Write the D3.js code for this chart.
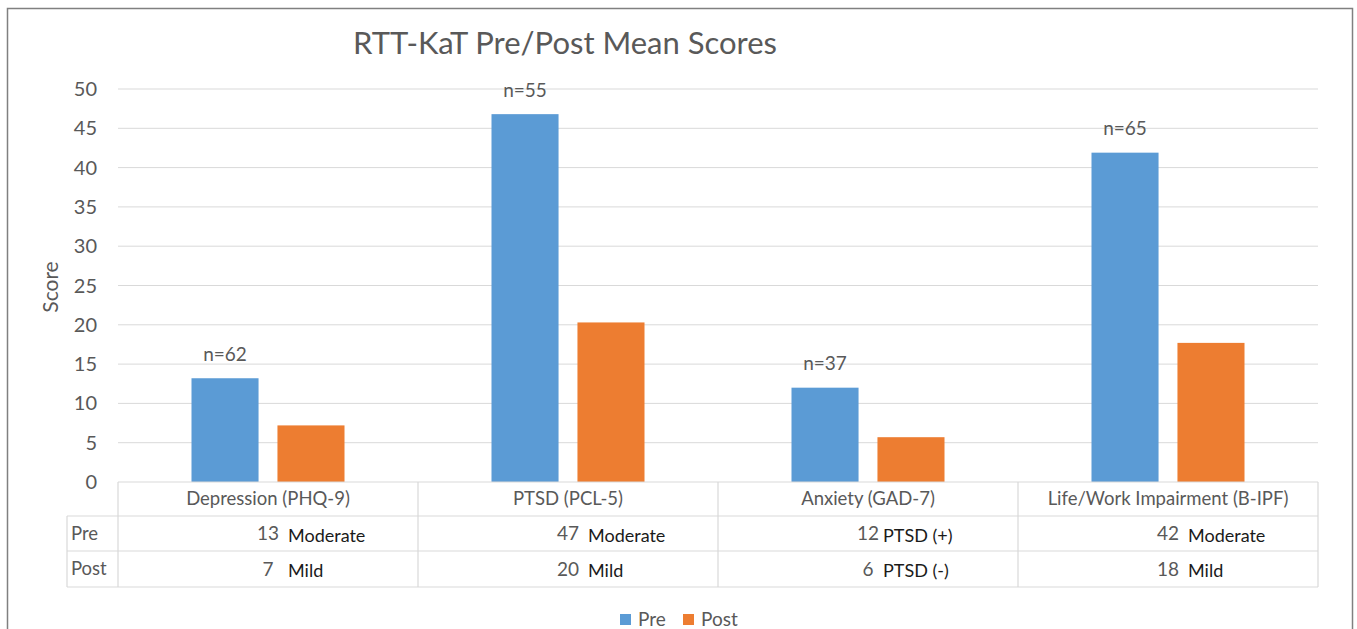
<!DOCTYPE html>
<head>
  <meta charset="utf-8">
  <script src="https://d3js.org/d3.v7.min.js"></script>
  <style>
    body { margin: 0; background: #fff; }
    text { font-family: Lato, "Open Sans", sans-serif; }
    .grid line { stroke: #d9d9d9; stroke-width: 1px; }
    .tbl { stroke: #d9d9d9; stroke-width: 1.2px; fill: none; }
  </style>
</head>

<body>
  <script>

    // data
    var categories = ["Depression (PHQ-9)", "PTSD (PCL-5)", "Anxiety (GAD-7)", "Life/Work Impairment (B-IPF)"];
    var series = ["Pre", "Post"];
    var preValues = [13.2, 46.8, 12.0, 41.9];
    var postValues = [7.2, 20.3, 5.7, 17.7];
    var nLabels = ["n=62", "n=55", "n=37", "n=65"];
    var preTable = ["13", "47", "12", "42"];
    var postTable = ["7", "20", "6", "18"];
    var preNotes = ["Moderate", "Moderate", "PTSD (+)", "Moderate"];
    var postNotes = ["Mild", "Mild", "PTSD (-)", "Mild"];
    var yTicks = [0, 5, 10, 15, 20, 25, 30, 35, 40, 45, 50];
    var colors = ["#5b9bd5", "#ed7d31"];

    var svg = d3.select("body").append("svg")
      .attr("width", 1357)
      .attr("height", 629);

    // outer frame
    svg.append("rect")
      .attr("x", 7.5).attr("y", 8.5)
      .attr("width", 1345).attr("height", 640)
      .attr("fill", "none")
      .attr("stroke", "#808080")
      .attr("stroke-width", 1.5);

    var plotLeft = 118, plotRight = 1318, plotTop = 89, base = 482;

    var x0 = d3.scaleBand()
      .domain(categories)
      .range([plotLeft, plotRight]);

    var x1 = d3.scaleBand()
      .domain(series)
      .range([0, x0.bandwidth()])
      .paddingInner(0.22)
      .paddingOuter(0.855);

    var y = d3.scaleLinear()
      .domain([0, 50])
      .range([base, plotTop]);

    // title
    svg.append("text")
      .attr("x", 565).attr("y", 54)
      .attr("text-anchor", "middle")
      .style("font-size", "31px")
      .style("fill", "#595959")
      .text("RTT-KaT Pre/Post Mean Scores");

    // gridlines
    svg.append("g")
      .attr("class", "grid")
      .selectAll("line")
      .data(yTicks.filter(function(d) { return d > 0; }))
      .enter().append("line")
      .attr("x1", plotLeft).attr("x2", plotRight)
      .attr("y1", function(d) { return y(d); })
      .attr("y2", function(d) { return y(d); });

    // y axis labels
    svg.append("g").selectAll("text")
      .data(yTicks)
      .enter().append("text")
      .attr("x", 97)
      .attr("y", function(d) { return y(d); })
      .attr("dy", "0.35em")
      .attr("text-anchor", "end")
      .style("font-size", "20px")
      .style("fill", "#595959")
      .text(function(d) { return d; });

    svg.append("text")
      .attr("transform", "translate(58, 287) rotate(-90)")
      .attr("text-anchor", "middle")
      .style("font-size", "21px")
      .style("fill", "#595959")
      .text("Score");

    // bars
    var groups = svg.append("g").selectAll("g")
      .data(categories)
      .enter().append("g")
      .attr("transform", function(d) { return "translate(" + x0(d) + ",0)"; });

    groups.selectAll("rect")
      .data(function(d, i) { return [preValues[i], postValues[i]]; })
      .enter().append("rect")
      .attr("x", function(d, j) { return x1(series[j]); })
      .attr("y", function(d) { return y(d); })
      .attr("width", x1.bandwidth())
      .attr("height", function(d) { return base - y(d); })
      .attr("fill", function(d, j) { return colors[j]; });

    // n labels above pre bars
    groups.append("text")
      .attr("x", x1("Pre") + x1.bandwidth() / 2)
      .attr("y", function(d, i) { return y(preValues[i]) - 24; })
      .attr("dy", "0.35em")
      .attr("text-anchor", "middle")
      .style("font-size", "19px")
      .style("fill", "#595959")
      .text(function(d, i) { return nLabels[i]; });

    // data table
    var tableLeft = 67, rowH = [482, 516, 551, 587];
    var tbl = svg.append("g");

    tbl.append("line").attr("class", "tbl")
      .attr("x1", plotLeft).attr("x2", plotRight).attr("y1", rowH[0]).attr("y2", rowH[0]);
    [1, 2, 3].forEach(function(r) {
      tbl.append("line").attr("class", "tbl")
        .attr("x1", tableLeft).attr("x2", plotRight).attr("y1", rowH[r]).attr("y2", rowH[r]);
    });
    tbl.append("line").attr("class", "tbl")
      .attr("x1", tableLeft).attr("x2", tableLeft).attr("y1", rowH[1]).attr("y2", rowH[3]);
    categories.concat([null]).forEach(function(c) {
      var xx = c === null ? plotRight : x0(c);
      tbl.append("line").attr("class", "tbl")
        .attr("x1", xx).attr("x2", xx).attr("y1", rowH[0]).attr("y2", rowH[3]);
    });

    // header labels
    tbl.selectAll(".cat")
      .data(categories)
      .enter().append("text")
      .attr("class", "cat")
      .attr("x", function(d) { return x0(d) + x0.bandwidth() / 2; })
      .attr("y", (rowH[0] + rowH[1]) / 2)
      .attr("dy", "0.35em")
      .attr("text-anchor", "middle")
      .style("font-size", "18.5px")
      .style("fill", "#595959")
      .text(function(d) { return d; });

    var rows = [
      { name: "Pre", vals: preTable, notes: preNotes },
      { name: "Post", vals: postTable, notes: postNotes }
    ];

    rows.forEach(function(r, ri) {
      var cy = (rowH[ri + 1] + rowH[ri + 2]) / 2;
      tbl.append("text")
        .attr("x", 71).attr("y", cy).attr("dy", "0.35em")
        .style("font-size", "18.5px")
        .style("fill", "#595959")
        .text(r.name);

      tbl.selectAll(".v" + ri)
        .data(categories)
        .enter().append("text")
        .attr("x", function(d) { return x0(d) + x0.bandwidth() / 2; })
        .attr("y", cy).attr("dy", "0.35em")
        .attr("text-anchor", "middle")
        .style("font-size", "19px")
        .style("fill", "#595959")
        .text(function(d, i) { return r.vals[i]; });

      tbl.selectAll(".n" + ri)
        .data(categories)
        .enter().append("text")
        .attr("x", function(d, i) { return x0(d) + x0.bandwidth() / 2 + (i === 2 ? 15 : 20); })
        .attr("y", cy + 2).attr("dy", "0.35em")
        .style("font-size", "18px")
        .style("fill", "#1a1a1a")
        .text(function(d, i) { return r.notes[i]; });
    });

    // legend
    var legend = svg.append("g");
    var legX = [620, 683];
    series.forEach(function(s, i) {
      legend.append("rect")
        .attr("x", legX[i]).attr("y", 614)
        .attr("width", 11).attr("height", 11)
        .attr("fill", colors[i]);
      legend.append("text")
        .attr("x", legX[i] + 18).attr("y", 619)
        .attr("dy", "0.35em")
        .style("font-size", "19px")
        .style("fill", "#595959")
        .text(s);
    });

  </script>
</body>
